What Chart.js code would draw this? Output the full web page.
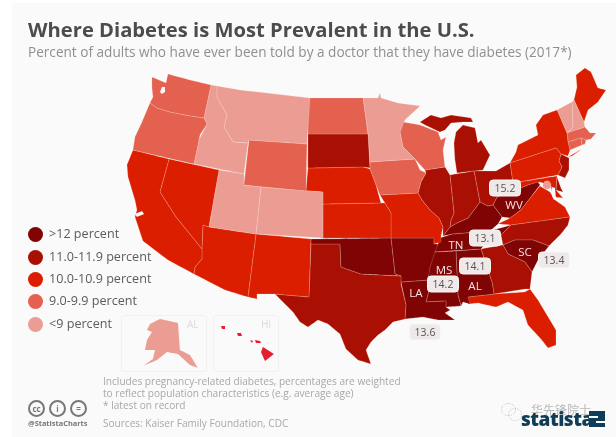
<!DOCTYPE html>
<html>
<head>
<meta charset="utf-8">
<script src="https://cdn.jsdelivr.net/npm/chart.js@4"></script>
<style>
  html, body { margin: 0; padding: 0; background: #fff; }
  #page { position: relative; width: 616px; height: 437px; overflow: hidden; font-family: "Open Sans", sans-serif; }
  #panel { position: absolute; left: 12px; top: 3px; right: 0; bottom: 0; background: #fafafa; }
  #chartBox { position: absolute; left: 0; top: 0; width: 616px; height: 437px; }
  .txt { position: absolute; white-space: nowrap; }
  .inset { position: absolute; top: 315px; height: 57px; border: 1px solid #f1f1f1; border-radius: 3px; box-sizing: border-box; }
  .dot { position: absolute; width: 15px; height: 15px; border-radius: 50%; }
  .callout { position: absolute; transform: translate(-50%, -50%); padding: 0 3px; width: 24px; height: 15px; line-height: 15px; text-align: center; background: #efe9e9; border: 1px solid #f7f7f7; border-radius: 4px; color: #555; font-size: 10.5px; }
  .code { position: absolute; transform: translate(-50%, -50%); color: #f3e4e4; font-size: 11.5px; }
  .cc { position: absolute; top: 400px; width: 13px; height: 13px; border: 2px solid #777; border-radius: 50%; text-align: center; line-height: 13px; font-size: 8px; font-weight: 700; color: #777; }
  .wx { position: absolute; border: 1px dotted #c4c4c4; border-radius: 50%; }
</style>
</head>
<body>
<div id="page">
  <div id="panel"></div>
  <div class="inset" style="left:121px;width:86px"></div>
  <div class="inset" style="left:213px;width:66px"></div>
  <div id="chartBox"><canvas id="chart" width="616" height="437"></canvas></div>
  <div class="txt" style="left:28px;top:15px;font-size:20.2px;font-weight:700;color:#4c4c4c">Where Diabetes is Most Prevalent in the U.S.</div>
  <div class="txt" style="left:28px;top:42px;font-size:13.6px;color:#8f8f8f">Percent of adults who have ever been told by a doctor that they have diabetes (2017*)</div>
  <div class="txt" style="left:187px;top:317px;font-size:10px;color:#dcdcdc">AL</div>
  <div class="txt" style="left:261px;top:317px;font-size:10px;color:#dcdcdc">HI</div>
  <div id="legend"></div>
  <div id="labels"></div>
  <div class="txt" style="left:103px;top:375px;font-size:10.1px;line-height:12px;color:#a8a8a8">Includes pregnancy-related diabetes, percentages are weighted<br>to reflect population characteristics (e.g. average age)<br>* latest on record</div>
  <div class="txt" style="left:103px;top:416px;font-size:10.05px;color:#a8a8a8">Sources: Kaiser Family Foundation, CDC</div>
  <div class="cc" style="left:28px">cc</div>
  <div class="cc" style="left:49px">i</div>
  <div class="cc" style="left:70px">=</div>
  <div class="txt" style="left:28px;top:418px;font-size:7.4px;font-weight:700;color:#777">@StatistaCharts</div>
  <div class="wx" style="left:501px;top:403px;width:13px;height:11px"></div>
  <div class="wx" style="left:508px;top:408px;width:12px;height:11px"></div>
  <div class="txt" style="left:531px;top:401px;font-size:12px;color:#b9b9b9;font-family:'Noto Sans CJK SC'">华先锋院士</div>
  <div class="txt" style="left:521px;top:406px;font-size:19px;font-weight:800;letter-spacing:-0.5px;color:#0f3c57;font-family:'Open Sans'">statista</div>
  <div class="txt" style="left:589px;top:411px;width:16px;height:16px;background:#0f3c57"></div>
  <div class="txt" style="left:589px;top:416px;width:9px;height:2px;background:#fafafa"></div>
  <div class="txt" style="left:596px;top:421px;width:9px;height:2px;background:#fafafa"></div>
</div>
<script>
// legend bins
const binLabels = [">12 percent", "11.0-11.9 percent", "10.0-10.9 percent", "9.0-9.9 percent", "<9 percent"];
const binFloors = [12, 11, 10, 9, 0];
const binColors = ["#800404", "#a91003", "#dc1e00", "#e4604f", "#ec9d93"];

// state outlines, x/y in map units
const WA = [[152,77],[159,80],[166,83],[168,74],[190,80],[211,85],[204,118],[185,115],[170,112],[157,108],[150,103],[153,97],[152,88]];
const OR = [[150,103],[157,108],[170,112],[185,115],[204,118],[207,124],[200,135],[198,145],[194,164],[133,150],[135,137],[142,122],[147,110]];
const CA = [[133,150],[169,159],[160,192],[176,217],[202,249],[202,259],[195,267],[194,274],[168,260],[160,254],[143,241],[135,217],[137,210],[135,200],[128,177],[127,165]];
const NV = [[169,159],[219,170],[209,227],[203,225],[202,249],[176,217],[160,192]];
const ID = [[211,85],[217,86],[217,97],[227,115],[224,127],[233,142],[248,143],[244,174],[194,164],[199,140],[207,124],[204,118]];
const MT = [[217,86],[240,90],[267,93],[310,98],[307,144],[249,140],[248,143],[233,142],[224,127],[227,115],[217,97]];
const WY = [[249,140],[307,144],[306,191],[244,185]];
const UT = [[219,170],[244,174],[244,185],[261,187],[256,234],[209,227]];
const CO = [[261,187],[323,192],[323,238],[256,234]];
const AZ = [[209,227],[256,234],[248,297],[225,290],[194,274],[195,267],[202,259],[202,249],[203,225]];
const NM = [[256,234],[311,239],[309,297],[275,294],[257,294],[257,299],[248,297]];
const ND = [[308,98],[363,98],[368,134],[308,134]];
const SD = [[308,134],[368,134],[370,168],[363,167],[308,168]];
const NE = [[308,168],[363,167],[370,169],[376,185],[381,203],[323,204],[323,192],[306,191]];
const KS = [[323,204],[381,203],[385,203],[391,213],[391,238],[323,238]];
const OK = [[311,239],[391,238],[395,274],[401,276],[381,275],[361,274],[341,267],[340,244],[311,244]];
const TX = [[311,244],[340,244],[341,267],[361,274],[381,275],[401,276],[401,284],[406,305],[405,319],[393,322],[385,330],[378,335],[371,342],[366,350],[371,364],[358,360],[346,349],[340,334],[328,324],[318,320],[308,327],[300,322],[293,312],[275,294],[309,297]];
const MN = [[363,98],[378,98],[380,93],[381,98],[398,103],[420,106],[405,120],[400,132],[403,147],[415,159],[370,162],[368,134]];
const IA = [[370,162],[415,159],[420,170],[426,173],[421,182],[418,193],[380,195],[376,185],[370,169]];
const MO = [[380,195],[418,193],[422,200],[430,210],[439,218],[443,227],[441,236],[441,242],[434,244],[434,238],[391,238],[391,213],[385,203]];
const AR = [[391,238],[434,238],[434,244],[438,244],[436,249],[430,267],[428,280],[401,282],[401,276],[395,274]];
const LA = [[401,282],[428,280],[430,287],[426,302],[446,301],[446,307],[450,310],[445,313],[455,320],[446,320],[438,320],[423,317],[405,319],[406,305]];
const WI = [[403,122],[420,125],[438,132],[441,140],[446,137],[443,150],[445,167],[425,170],[415,159],[403,147],[400,132]];
const IL = [[425,170],[445,167],[450,175],[454,213],[451,220],[450,227],[443,236],[443,227],[439,218],[430,210],[422,200],[418,193],[421,182],[426,173]];
const IN = [[450,175],[474,171],[480,202],[468,218],[457,223],[450,227],[451,220],[454,213]];
const MI_LOWER = [[456,132],[463,125],[475,128],[478,143],[481,140],[490,155],[483,170],[457,173],[455,160],[454,143]];
const MI_UPPER = [[420,122],[431,115],[441,118],[451,115],[471,118],[473,122],[463,122],[451,123],[445,130],[440,132],[425,125]];
const OH = [[474,171],[496,171],[510,163],[513,183],[510,192],[497,197],[493,205],[488,206],[480,202]];
const KY = [[443,236],[450,227],[457,223],[468,218],[480,202],[488,206],[493,205],[502,217],[498,224],[490,231],[452,234]];
const TN = [[440,238],[452,234],[490,231],[511,225],[501,235],[486,243],[481,249],[433,252],[438,244]];
const MS = [[433,252],[456,251],[458,295],[461,306],[446,307],[446,301],[426,302],[430,287],[428,274]];
const AL = [[456,251],[481,249],[492,282],[494,294],[468,297],[470,304],[463,302],[461,306],[458,295]];
const GA = [[481,249],[503,245],[508,254],[525,262],[532,272],[530,289],[525,289],[494,294],[492,282]];
const FL = [[468,297],[494,294],[525,292],[530,289],[538,300],[556,330],[556,345],[548,348],[541,339],[528,325],[523,310],[508,302],[496,307],[478,303],[468,304]];
const SC = [[503,245],[515,240],[533,240],[549,246],[538,260],[532,272],[525,262],[508,254]];
const NC = [[511,225],[570,217],[568,225],[561,234],[549,246],[533,240],[515,240],[503,245],[501,235]];
const VA = [[498,224],[510,218],[521,210],[531,197],[540,186],[550,192],[555,200],[565,207],[570,217],[511,225]];
const WV = [[493,205],[497,197],[510,192],[512,186],[521,188],[528,185],[538,182],[540,185],[531,197],[521,210],[510,218],[502,217]];
const MD = [[513,183],[557,176],[556,190],[563,198],[553,197],[551,186],[540,182],[528,185],[521,188],[512,186]];
const DE = [[557,177],[561,188],[563,192],[556,190]];
const PA = [[510,163],[556,148],[561,154],[559,161],[562,167],[558,175],[513,183]];
const NY = [[510,163],[516,152],[518,145],[538,135],[536,125],[543,115],[557,110],[567,133],[568,142],[570,150],[568,156],[561,154],[556,148]];
const NY_ISLAND = [[568,157],[582,149],[572,156]];
const NJ = [[561,154],[569,158],[569,170],[565,178],[558,175],[562,167],[559,161]];
const CT = [[568,142],[581,138],[582,145],[570,150]];
const RI = [[581,138],[586,140],[585,144],[582,145]];
const MA = [[567,133],[585,127],[590,133],[596,133],[591,139],[586,140],[581,138],[568,142]];
const VT = [[557,110],[572,102],[573,127],[567,133]];
const NH = [[572,102],[574,100],[584,122],[585,127],[567,133],[573,127]];
const ME = [[576,75],[585,68],[591,72],[598,88],[606,90],[598,102],[588,110],[584,122],[574,100],[577,87]];
const DC = [[545,181],[549,181],[551,184],[551,187],[549,189],[545,189],[543,187],[543,184]];
const AK = [[160,319],[178,323],[180,350],[190,355],[198,368],[190,365],[178,354],[167,352],[157,360],[143,366],[153,359],[155,350],[145,350],[147,340],[152,332],[147,330],[150,324]];
const HI_BIG = [[263,347],[274,354],[265,361],[261,352]];
const HI_MAUI = [[255,340],[260,341],[261,343],[256,343]];
const HI_MOLOKAI = [[250,340],[253,341],[252,343]];
const HI_OAHU = [[237,333],[241,333],[242,336],[238,336]];
const HI_KAUAI = [[221,326],[225,326],[225,329],[222,329]];

// bays drawn over the land
const PUGET = [[162,87],[165,87],[165,92],[162,94],[160,92]];
const CHESAPEAKE = [[552,187],[555,188],[556,198],[554,200],[552,196]];
const SF_BAY = [[135,214],[142,211],[144,214],[137,217]];
const waterShapes = [PUGET, CHESAPEAKE, SF_BAY];

// one row per outline: name, rate, shape. chart.js paints the first dataset last, DC stays on top
const stateNames = ["DC","WA","OR","CA","NV","ID","MT","WY","UT","CO","AZ","NM","ND","SD","NE","KS","OK","TX","MN","IA","MO","AR","LA","WI","IL","IN","MI","MI","OH","KY","TN","MS","AL","GA","FL","SC","NC","VA","WV","MD","DE","PA","NY","NY","NJ","CT","RI","MA","VT","NH","ME","AK","HI","HI","HI","HI","HI"];
const stateRates = [8.5,9.5,9.6,10.4,10.2,8.7,8.4,9.2,8.6,7.2,10.6,10.5,9.3,11.2,10.1,10.7,12.8,11.8,8.8,9.7,10.9,12.6,13.6,9.4,11.2,11.7,11.3,11.3,11.4,12.9,13.1,14.2,14.1,11.9,10.8,13.4,11.6,10.8,15.2,10.7,11.2,10.6,10.4,10.4,11.0,9.9,9.8,9.2,8.8,8.9,10.2,8.2,10.4,10.4,10.4,10.4,10.4];
const stateShapes = [DC,WA,OR,CA,NV,ID,MT,WY,UT,CO,AZ,NM,ND,SD,NE,KS,OK,TX,MN,IA,MO,AR,LA,WI,IL,IN,MI_LOWER,MI_UPPER,OH,KY,TN,MS,AL,GA,FL,SC,NC,VA,WV,MD,DE,PA,NY,NY_ISLAND,NJ,CT,RI,MA,VT,NH,ME,AK,HI_BIG,HI_MAUI,HI_MOLOKAI,HI_OAHU,HI_KAUAI];

// printed values
const calloutValues = ["15.2","13.1","14.1","14.2","13.4","13.6"];
const calloutX = [505,485,475,443,554,425];
const calloutY = [188,238,266,284,260,332];
const codeLabels = ["WV","TN","MS","AL","SC","LA"];
const codeX = [514,456,444,475,525,416];
const codeY = [204,244,269,285,251,292];
const legendY = [234,257,279,301,324];

function colorFor(rate) {
  return binColors[binFloors.findIndex(function (f) { return rate >= f; })];
}

function toPoints(shape) {
  return shape.concat([shape[0]]).map(function (p) { return { x: p[0], y: p[1] }; });
}

const waterSets = waterShapes.map(function (shape) {
  return { label: "water", data: toPoints(shape), showLine: true, fill: "shape", backgroundColor: "#fafafa", borderWidth: 0, pointRadius: 0, tension: 0.001 };
});

const stateSets = stateShapes.map(function (shape, i) {
  const isHawaii = stateNames[i] === "HI";
  return {
    label: stateNames[i],
    data: toPoints(shape),
    showLine: true,
    fill: "shape",
    backgroundColor: isHawaii ? "#e2202f" : colorFor(stateRates[i]),
    borderColor: "rgba(255,235,225,0.28)",
    borderWidth: stateNames[i] === "AK" || isHawaii ? 0 : 0.7,
    pointRadius: 0,
    // small tension keeps chart.js off its fast path, which merges points per x pixel
    tension: 0.001,
  };
});

const myChart = new Chart(document.getElementById("chart").getContext("2d"), {
  type: "scatter",
  data: { datasets: waterSets.concat(stateSets) },
  options: {
    responsive: false,
    animation: false,
    layout: { padding: 0 },
    plugins: { legend: { display: false }, tooltip: { enabled: false }, title: { display: false } },
    scales: {
      x: { type: "linear", min: 0, max: 616, display: false },
      y: { type: "linear", min: 0, max: 437, reverse: true, display: false },
    },
  },
});

// legend + labels as html text
const legendBox = document.getElementById("legend");
binLabels.forEach(function (label, i) {
  const dot = document.createElement("div");
  dot.className = "dot";
  dot.style.left = "28px";
  dot.style.top = myChart.scales.y.getPixelForValue(legendY[i]) - 7.5 + "px";
  dot.style.background = binColors[i];
  legendBox.appendChild(dot);
  const t = document.createElement("div");
  t.className = "txt";
  t.style.left = "49px";
  t.style.top = myChart.scales.y.getPixelForValue(legendY[i]) - 9 + "px";
  t.style.fontSize = "12.6px";
  t.style.color = "#5c5c5c";
  t.textContent = label;
  legendBox.appendChild(t);
});

const labelBox = document.getElementById("labels");
function addLabels(texts, xs, ys, cls) {
  texts.forEach(function (text, i) {
    const d = document.createElement("div");
    d.className = cls;
    d.style.left = myChart.scales.x.getPixelForValue(xs[i]) + "px";
    d.style.top = myChart.scales.y.getPixelForValue(ys[i]) + "px";
    d.textContent = text;
    labelBox.appendChild(d);
  });
}
addLabels(codeLabels, codeX, codeY, "code");
addLabels(calloutValues, calloutX, calloutY, "callout");
</script>
</body>
</html>
